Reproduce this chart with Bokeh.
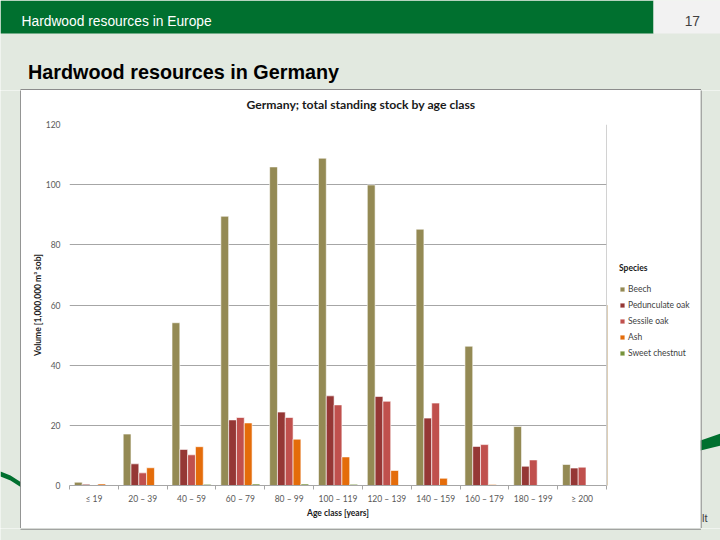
import numpy as np
from bokeh.plotting import figure
from bokeh.layouts import column, row
from bokeh.models import (FixedTicker, Legend, LegendItem, Span, ColumnDataSource)
from bokeh.core.properties import value
from bokeh.transform import dodge
from bokeh.embed import file_html
from bokeh.resources import INLINE

# ---------------- data ----------------
age_classes = ["\u2264 19", "20 \u2013 39", "40 \u2013 59", "60 \u2013 79", "80 \u2013 99",
               "100 \u2013 119", "120 \u2013 139", "140 \u2013 159", "160 \u2013 179",
               "180 \u2013 199", "\u2265 200"]
species = ["Beech", "Pedunculate oak", "Sessile oak", "Ash", "Sweet chestnut"]
beech = [1.1, 17.1, 54.1, 89.5, 105.9, 108.8, 99.9, 85.2, 46.3, 19.6, 7.0]
pedunculate_oak = [0.4, 7.2, 12.0, 21.8, 24.4, 29.8, 29.6, 22.4, 13.0, 6.4, 5.8]
sessile_oak = [0.2, 4.2, 10.2, 22.6, 22.6, 26.8, 28.0, 27.4, 13.6, 8.5, 6.1]
ash = [0.5, 5.9, 12.9, 20.8, 15.4, 9.5, 5.0, 2.4, 0.3, 0.0, 0.0]
sweet_chestnut = [0.0, 0.0, 0.4, 0.5, 0.5, 0.4, 0.0, 0.0, 0.0, 0.0, 0.0]
y_ticks = [0, 20, 40, 60, 80, 100, 120]

colors = ["#948A54", "#953735", "#C0504D", "#E46C0A", "#77933C"]
series = [beech, pedunculate_oak, sessile_oak, ash, sweet_chestnut]

BG = "#e2e9e0"
SLIDE_GREEN = "#00702f"
BORDER = "#8c8c8c"
FONT = "Lato"
GRID = "#a6a6a6"
n = len(age_classes)

# ---------------- chart title strip (slide x 21..700, y 90..118) ----------------
TH = 28
ts = figure(width=679, height=TH, output_backend="svg", toolbar_location=None,
            x_range=(0, 679), y_range=(TH, 0), x_axis_type=None, y_axis_type=None,
            min_border=0)
ts.background_fill_color = "white"
ts.border_fill_color = "white"
ts.outline_line_color = None
ts.grid.visible = False
ts.text(x=[339.5], y=[14], text=["Germany; total standing stock by age class"],
        text_color="#1a1a1a", text_font=value(FONT), text_font_style="bold",
        text_font_size="12.2px", text_align="center", text_baseline="middle")

# ---------------- chart (slide x 21..607, y 118..528) ----------------
CW, CH = 586, 410
p = figure(width=CW, height=CH, output_backend="svg", toolbar_location=None,
           x_range=(0, n), y_range=(0, 120),
           min_border_left=48, min_border_right=1,
           min_border_top=6, min_border_bottom=43)
p.background_fill_color = "white"
p.border_fill_color = "white"
p.outline_line_color = None

src = ColumnDataSource(dict(x=np.arange(n) + 0.5, **{f"s{j}": v for j, v in enumerate(series)}))
bw = 0.16
for j, (name, col) in enumerate(zip(species, colors)):
    p.vbar(x=dodge("x", (j - 2) * bw, range=p.x_range), top=f"s{j}", bottom=0, width=bw,
           source=src, fill_color=col, line_color="white", line_width=0.6)

p.xgrid.visible = False
p.ygrid.ticker = FixedTicker(ticks=[20, 40, 60, 80, 100])
p.ygrid.grid_line_color = GRID
p.ygrid.grid_line_width = 1

xa = p.xaxis[0]
xa.ticker = FixedTicker(ticks=[i + 0.5 for i in range(n)], minor_ticks=list(range(n + 1)))
xa.major_label_overrides = {i + 0.5: lab for i, lab in enumerate(age_classes)}
xa.major_tick_out = 0
xa.major_tick_in = 0
xa.minor_tick_out = 4
xa.minor_tick_in = 0
xa.minor_tick_line_color = GRID
xa.axis_line_color = GRID
xa.major_label_standoff = 4
xa.major_label_text_font = FONT
xa.major_label_text_font_size = "8.5px"
xa.major_label_text_color = "#595959"
xa.axis_label = "Age class [years]"
xa.axis_label_text_font = FONT
xa.axis_label_text_font_style = "bold"
xa.axis_label_text_font_size = "8.5px"
xa.axis_label_text_color = "#1a1a1a"
xa.axis_label_standoff = 1

ya = p.yaxis[0]
ya.ticker = FixedTicker(ticks=y_ticks)
ya.axis_line_color = None
ya.major_tick_out = 0
ya.major_tick_in = 0
ya.minor_tick_out = 0
ya.minor_tick_in = 0
ya.major_label_standoff = 9
ya.major_label_text_font = FONT
ya.major_label_text_font_size = "8.5px"
ya.major_label_text_color = "#595959"
ya.axis_label = "Volume [1,000,000 m\u00b3 sob]"
ya.axis_label_text_font = FONT
ya.axis_label_text_font_style = "bold"
ya.axis_label_text_font_size = "8.5px"
ya.axis_label_text_color = "#1a1a1a"
ya.axis_label_standoff = 0

p.add_layout(Span(location=n, dimension="height", line_color=GRID, line_width=1))

# ---------------- legend panel (slide x 607..700, y 118..528) ----------------
lg = figure(width=93, height=CH, output_backend="svg", toolbar_location=None,
            x_range=(0, 1), y_range=(0, 1), x_axis_type=None, y_axis_type=None, min_border=0)
lg.background_fill_color = "white"
lg.border_fill_color = "white"
lg.outline_line_color = None
lg.grid.visible = False
leg_rends = [lg.vbar(x=[-10], top=[0.5], width=0.1, fill_color=c, line_color="white",
                     line_width=0.6) for c in colors]
legend = Legend(items=[LegendItem(label=s, renderers=[r], index=0)
                       for s, r in zip(species, leg_rends)],
                title="Species", location=(12, 127))
legend.title_text_font = FONT
legend.title_text_font_style = "bold"
legend.title_text_font_size = "8.5px"
legend.title_text_color = "#1a1a1a"
legend.title_standoff = 11
legend.label_text_font = FONT
legend.label_text_font_size = "8.5px"
legend.label_text_color = "#404040"
legend.glyph_width = 6
legend.glyph_height = 6
legend.label_height = 10
legend.label_standoff = 3
legend.spacing = 6
legend.padding = 5
legend.margin = 0
legend.border_line_color = None
legend.background_fill_alpha = 0
lg.add_layout(legend)


# ---------------- slide decoration figures (pixel coordinates) ----------------
def deco(w, h):
    f = figure(width=w, height=h, output_backend="svg", toolbar_location=None,
               x_range=(0, w), y_range=(h, 0), x_axis_type=None, y_axis_type=None,
               min_border=0)
    f.background_fill_color = BG
    f.border_fill_color = BG
    f.outline_line_color = None
    f.grid.visible = False
    return f


MH = TH + CH  # middle row height (slide y 90..528)

# header: slide y 0..90
hd = deco(720, 90)
hd.quad(left=[0], right=[653], top=[0], bottom=[33], fill_color=SLIDE_GREEN, line_color=None)
hd.quad(left=[653], right=[720], top=[0], bottom=[33], fill_color="#f2f2f2", line_color=None)
hd.quad(left=[20], right=[700.5], top=[88.6], bottom=[90], fill_color=BORDER, line_color=None)
hd.text(x=[21], y=[20.7], text=["Hardwood resources in Europe"], text_color="white",
        text_font=value("Liberation Sans"), text_font_size="13.8px",
        text_baseline="alphabetic")
hd.text(x=[699.5], y=[20.7], text=["17"], text_color="#404040",
        text_font=value("Liberation Sans"), text_font_size="13.8px",
        text_baseline="alphabetic", text_align="right")
hd.text(x=[27.5], y=[71.7], text=["Hardwood resources in Germany"], text_color="black",
        text_font=value("Liberation Sans"), text_font_style="bold", text_font_size="19.8px",
        text_baseline="alphabetic")

# left strip: slide x 0..21, y 90..528
lf = deco(21, MH)
lf.patch(x=[0, 10, 21, 21, 10, 0], y=[381, 385, 392, 397, 390, 386],
         fill_color=SLIDE_GREEN, line_color=None)
lf.quad(left=[19.6], right=[21], top=[-2], bottom=[MH + 2], fill_color=BORDER, line_color=None)

# right strip: slide x 700..720, y 90..528
rt = deco(20, MH)
rt.patch(x=[0, 20, 20, 0], y=[350, 343, 355, 360], fill_color=SLIDE_GREEN, line_color=None)
rt.quad(left=[0], right=[1.2], top=[-2], bottom=[MH + 2], fill_color=BORDER, line_color=None)
rt.text(x=[1.5], y=[427], text=["lt"], text_color="#404040",
        text_font=value("Liberation Sans"), text_font_size="11px", text_baseline="alphabetic")

# bottom strip: slide y 528..540
bt = deco(720, 12)
bt.quad(left=[20], right=[700.5], top=[0], bottom=[1.3], fill_color=BORDER, line_color=None)

layout = column(hd, row(lf, column(ts, row(p, lg)), rt), bt)
open("out.html", "w").write(file_html(layout, INLINE))
